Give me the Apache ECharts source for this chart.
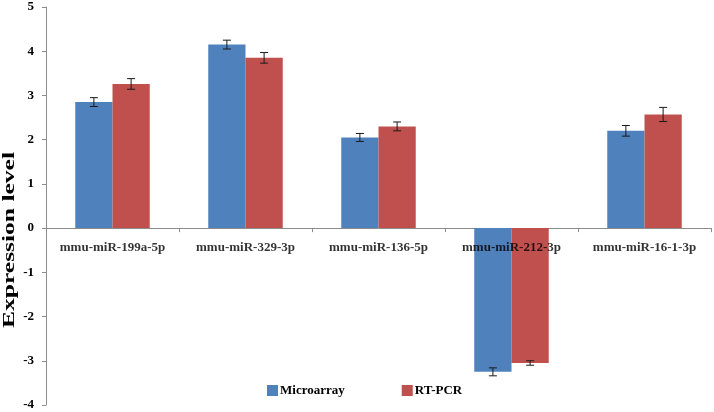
<!DOCTYPE html>
<html><head><meta charset="utf-8">
<script src="https://cdn.jsdelivr.net/npm/echarts@6/dist/echarts.min.js"></script>
<style>html,body{margin:0;padding:0;background:#fff}#c{width:714px;height:412px}</style>
</head><body><div id="c"></div>
<script>
const categories = ['mmu-miR-199a-5p','mmu-miR-329-3p','mmu-miR-136-5p','mmu-miR-212-3p','mmu-miR-16-1-3p'];
const microarray = [2.85, 4.15, 2.05, -3.25, 2.20];
const microarrayErr = [0.10, 0.10, 0.09, 0.09, 0.12];
const rtpcr = [3.26, 3.85, 2.30, -3.05, 2.57];
const rtpcrErr = [0.12, 0.12, 0.10, 0.05, 0.16];
const yTicks = [-4,-3,-2,-1,0,1,2,3,4,5];

const FONT = '"Liberation Serif", "Times New Roman", serif';
const catGap = 0.44;

function errSeries(vals, errs, side) {
  return {
    type: 'custom',
    silent: true,
    z: 10,
    data: vals.map((v,i)=>[i, v, errs[i]]),
    renderItem: function(params, api) {
      const i = api.value(0), v = api.value(1), e = api.value(2);
      const band = api.size([1,0])[0];
      const bw = band*(1-catGap)/2;
      const c = api.coord([i, v]);
      const x = c[0] + side*bw/2;
      const yTop = api.coord([i, v+e])[1];
      const yBot = api.coord([i, v-e])[1];
      const cap = 4;
      const st = {stroke:'#1a1a1a', lineWidth:1};
      return {type:'group', children:[
        {type:'line', shape:{x1:x,y1:yTop,x2:x,y2:yBot}, style:st},
        {type:'line', shape:{x1:x-cap,y1:yTop,x2:x+cap,y2:yTop}, style:st},
        {type:'line', shape:{x1:x-cap,y1:yBot,x2:x+cap,y2:yBot}, style:st}
      ]};
    }
  };
}

// stretch the y-axis title to the reference length
const titleText = 'Expression level';
const titleFont = 'bold 16px ' + FONT;
const mc = document.createElement('canvas').getContext('2d');
mc.font = titleFont;
const titleScale = 176 / mc.measureText(titleText).width;

const chart = echarts.init(document.getElementById('c'));
chart.setOption({
  animation: false,
  grid: {left: 46, right: 3, top: 7, bottom: 7, containLabel: false},
  legend: {
    data: ['Microarray','RT-PCR'],
    left: 267, top: 384, padding: 0,
    icon: 'rect', itemWidth: 11, itemHeight: 11, itemGap: 57,
    textStyle: {fontFamily: FONT, fontWeight: 'bold', fontSize: 13, color: '#000', padding:[0,0,0,-3]}
  },
  xAxis: {
    type: 'category', data: categories,
    axisLine: {onZero: true, lineStyle: {color: '#8c8c8c'}},
    axisTick: {show: true, length: 4, lineStyle: {color: '#8c8c8c'}},
    axisLabel: {show: false}
  },
  yAxis: {
    type: 'value', min: -4, max: 5, interval: 1,
    splitLine: {show: false},
    axisLine: {show: true, lineStyle: {color: '#8c8c8c'}},
    axisTick: {show: true, length: 4, lineStyle: {color: '#8c8c8c'}},
    axisLabel: {fontFamily: FONT, fontWeight: 'bold', fontSize: 13, color: '#000', margin: 12,
      formatter: v => yTicks.includes(v) ? String(v) : ''}
  },
  graphic: [{
    type: 'text', x: 10, y: 240, rotation: Math.PI/2, scaleX: titleScale,
    style: {text: titleText, font: titleFont, fill: '#000', align: 'center', verticalAlign: 'middle'}
  }],
  series: [
    {name:'Microarray', type:'bar', data: microarray, barGap: '0%', barCategoryGap: (catGap*100)+'%',
      itemStyle:{color:'#4f81bd'}},
    {name:'RT-PCR', type:'bar', data: rtpcr, barGap: '0%', barCategoryGap: (catGap*100)+'%',
      itemStyle:{color:'#c0504d'}},
    errSeries(microarray, microarrayErr, -1),
    errSeries(rtpcr, rtpcrErr, 1),
    {type:'scatter', symbolSize: 0, silent: true, z: 3,
      data: categories.map((c,i)=>[i, 0, c]),
      label: {show: true, position: 'bottom', distance: 13, formatter: p => p.value[2],
        fontFamily: FONT, fontWeight: 'bold', fontSize: 13, color: '#000'}}
  ]
});
</script></body></html>
